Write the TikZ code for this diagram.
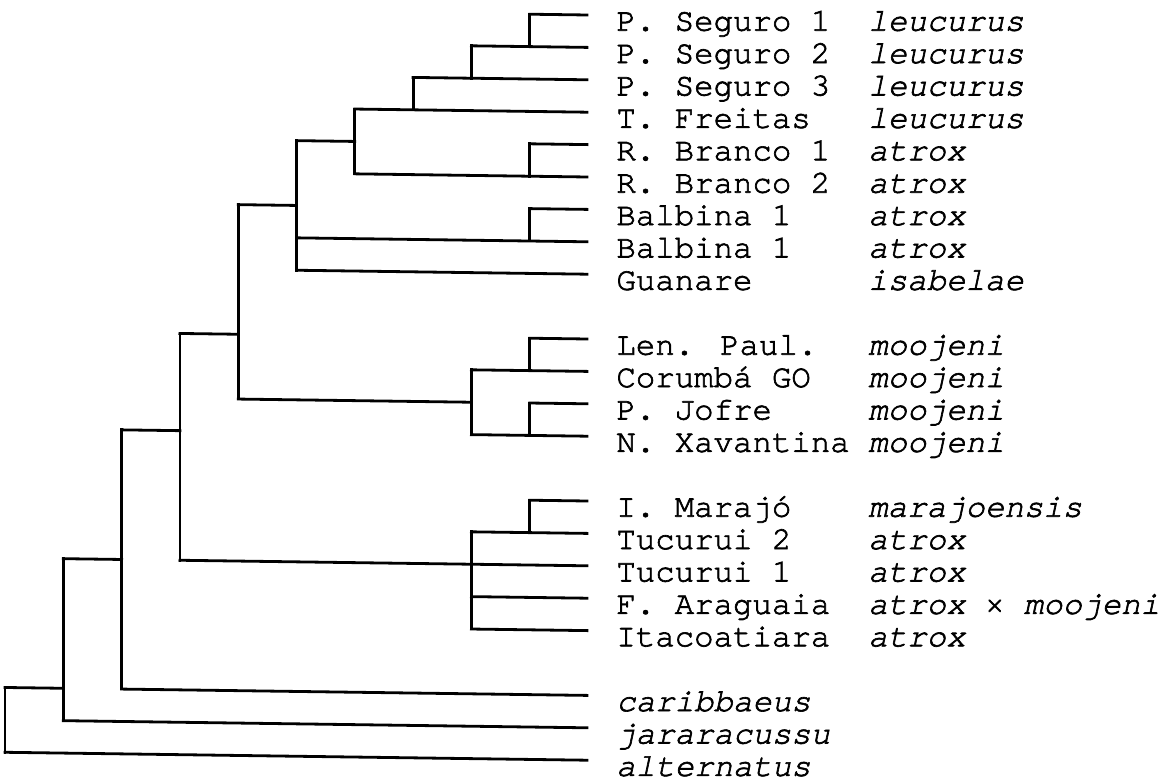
\documentclass[tikz,border=0pt]{standalone}
\usepackage{fontspec}
\newfontfamily\treefont{texgyrecursor}[Extension=.otf, UprightFont=*-regular,
  ItalicFont=*-italic, BoldFont=*-bold, BoldItalicFont=*-bolditalic, FakeBold=2]
\begin{document}
\begin{tikzpicture}[x=0.5pt,y=-0.5pt,
  branch/.style={line width=1.4pt, line cap=rect},
  taxon/.style={anchor=base west, inner sep=0pt, font=\treefont\fontsize{16.2}{19}\selectfont},
  species/.style={taxon, font=\treefont\fontsize{16.2}{19}\selectfont\itshape}]
\useasboundingbox (0,0) rectangle (1165,779);
\fill[white] (0,0) rectangle (1165,779);

% ---- tree: levels x = 5 + 58.3*i, rows y = 15 + 32.4*k ----
\begin{scope}[shift={(587,0)}, yslant=-0.0136, shift={(-587,0)}]
  % terminal branches: row / level where the branch starts
  \foreach \k/\lv in {0/9, 1/8, 2/7, 3/6, 4/9, 5/6, 6/9, 7/5, 8/5,
                      10/9, 11/8, 12/9, 13/8,
                      15/9, 16/8, 17/3, 18/8, 19/8,
                      21/2, 22/1, 23/0} {
    \coordinate (s\k) at ({5+58.3*\lv},{15+32.4*\k});
    \coordinate (t\k) at (587,{15+32.4*\k});
    \draw[branch] (s\k) -- (t\k);
  }
  % internal nodes: name / level / first row / last row
  \foreach \n/\lv/\a/\b in {a/9/0/1, b/8/1/2, c/7/2/3, d/6/3/5, e/9/4/5,
                            f/9/6/7, g/5/4/8, h/9/10/11, i/9/12/13, j/8/11/13,
                            k/4/6/12, m/9/15/16, n/8/16/19, p/3/10/17,
                            q/2/13/21, r/1/17/22, s/0/21/23} {
    \coordinate (\n-top) at ({5+58.3*\lv},{15+32.4*\a});
    \coordinate (\n-bot) at ({5+58.3*\lv},{15+32.4*\b});
    \draw[branch] (\n-top) -- (\n-bot);
  }
  % attachment points of nodes joined off their end rows
  \coordinate (d-in) at ({5+58.3*6},{15+32.4*4});
  \coordinate (g-in) at ({5+58.3*5},{15+32.4*6});
  \coordinate (j-in) at ({5+58.3*8},{15+32.4*12});
  \coordinate (k-in) at ({5+58.3*4},{15+32.4*10});
  \coordinate (p-in) at ({5+58.3*3},{15+32.4*13});
  \coordinate (q-in) at ({5+58.3*2},{15+32.4*17});
  \coordinate (r-in) at ({5+58.3*1},{15+32.4*21});
  \draw[branch] (g-top) -- (d-in);
  \draw[branch] (k-top) -- (g-in);
  \draw[branch] (k-bot) -- (j-in);
  \draw[branch] (p-top) -- (k-in);
  \draw[branch] (q-top) -- (p-in);
  \draw[branch] (r-top) -- (q-in);
  \draw[branch] (s-top) -- (r-in);
\end{scope}

% ---- labels: locality and species ----
\foreach \k/\loc/\sp in {0/P. Seguro 1/leucurus, 1/P. Seguro 2/leucurus,
    2/P. Seguro 3/leucurus, 3/T. Freitas/leucurus, 4/R. Branco 1/atrox,
    5/R. Branco 2/atrox, 6/Balbina 1/atrox, 7/Balbina 1/atrox,
    8/Guanare/isabelae, 10/Len. Paul./moojeni, 11/Corumbá GO/moojeni,
    12/P. Jofre/moojeni, 13/N. Xavantina/moojeni, 15/I. Marajó/marajoensis,
    16/Tucurui 2/atrox, 17/Tucurui 1/atrox,
    18/F. Araguaia/{atrox {\upshape ×} moojeni}, 19/Itacoatiara/atrox} {
  \node[taxon] (loc\k) at (616,{30.7+32.4*\k}) {\loc};
  \node[species] (sp\k) at (868,{30.7+32.4*\k}) {\sp};
}
\node[species] (sp21) at (616,{30.7+32.4*21}) {caribbaeus};
\node[species] (sp22) at (616,{30.7+32.4*22}) {jararacussu};
\node[species] (sp23) at (616,{30.7+32.4*23}) {alternatus};
\end{tikzpicture}
\end{document}
